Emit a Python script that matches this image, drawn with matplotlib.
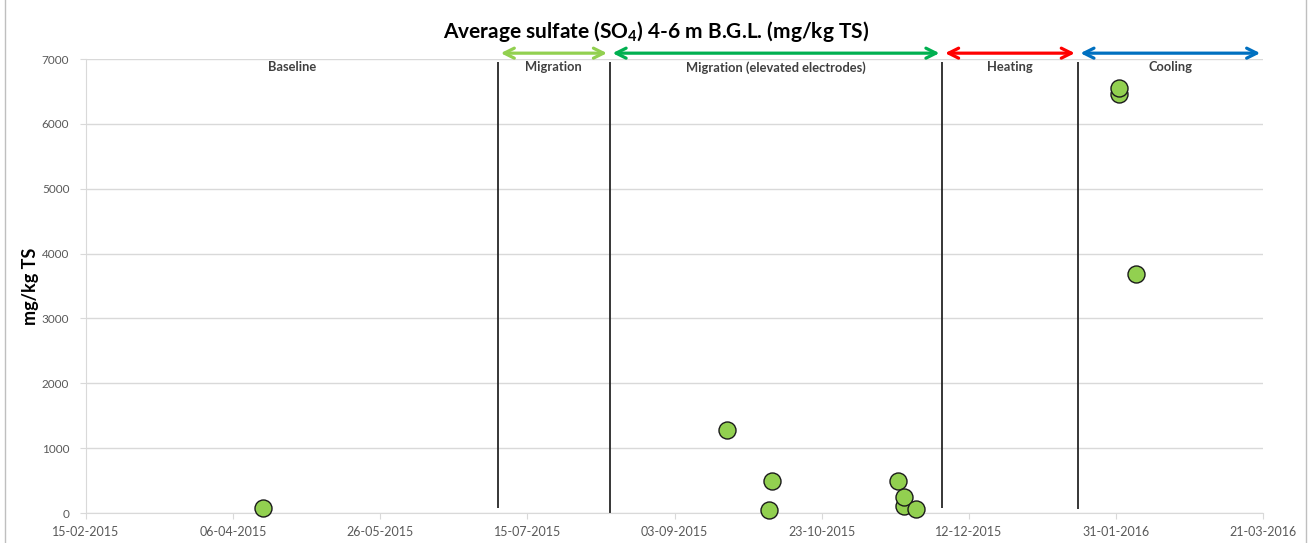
import numpy as np
import matplotlib
matplotlib.use("Agg")
import matplotlib.pyplot as plt
import matplotlib.dates as mdates
from matplotlib.patches import Rectangle
from datetime import datetime, timedelta

plt.rcParams['font.family'] = ['Lato', 'DejaVu Sans']
plt.rcParams['mathtext.fontset'] = 'custom'
plt.rcParams['mathtext.rm'] = 'Lato:bold'
plt.rcParams['mathtext.default'] = 'regular'

# sample dates and sulfate values (mg/kg TS)
sample_dates = ['2015-04-16', '2015-09-21', '2015-10-05', '2015-10-06',
                '2015-11-18', '2015-11-20', '2015-11-20', '2015-11-24',
                '2016-02-01', '2016-02-01', '2016-02-07']
sulfate = [70, 1285, 45, 500, 500, 110, 240, 55, 6460, 6560, 3690]

# phase boundaries and names
x_start = '2015-02-15'
x_end = '2016-03-21'
boundaries = ['2015-07-05', '2015-08-12', '2015-12-03', '2016-01-18']
phase_names = ['Baseline', 'Migration', 'Migration (elevated electrodes)',
               'Heating', 'Cooling']
arrow_colors = ['#92d050', '#00b050', '#ff0000', '#0070c0']

to_dt = lambda s: datetime.strptime(s, '%Y-%m-%d')
x = [to_dt(d) for d in sample_dates]
x0, x1 = to_dt(x_start), to_dt(x_end)
bnd = [to_dt(d) for d in boundaries]

fig = plt.figure(figsize=(13.09, 5.43), dpi=100)
ax = fig.add_axes([86/1309, 1 - 513/543, (1263-86)/1309, (513-59)/543])

ax.set_xlim(x0, x1)
ax.set_ylim(0, 7000)
ax.set_yticks(np.arange(0, 7001, 1000))
ax.set_xticks([x0 + timedelta(days=50*i) for i in range(9)])
ax.xaxis.set_major_formatter(mdates.DateFormatter('%d-%m-%Y'))
ax.grid(axis='y', color='#d9d9d9', lw=1)
ax.set_axisbelow(True)
for s in ['top', 'right']:
    ax.spines[s].set_visible(False)
for s in ['left', 'bottom']:
    ax.spines[s].set_color('#d9d9d9')
ax.tick_params(colors='#d9d9d9', labelcolor='#595959', length=4)
ax.tick_params(axis='x', labelsize=9, pad=5)
ax.tick_params(axis='y', labelsize=8.5, pad=8)

# phase separators
ax.vlines(bnd, [70, -60, 70, 60], 6950, color='#262626', lw=1.3)

# phase labels centered in each phase
edges = [x0] + bnd + [x1]
for i, name in enumerate(phase_names):
    mid = edges[i] + (edges[i+1] - edges[i]) / 2
    ax.text(mid, 6870, name, ha='center', va='center', fontsize=9.3,
            fontweight='bold', color='#404040')

# arrows above the plot (no arrow over baseline)
for i, c in enumerate(arrow_colors):
    ax.annotate('', xy=(edges[i+2], 7090), xytext=(edges[i+1], 7090),
                xycoords='data', annotation_clip=False,
                arrowprops=dict(arrowstyle='<->', color=c, lw=2.3,
                                mutation_scale=18, shrinkA=2, shrinkB=2))

ax.scatter(x, sulfate, s=150, color='#92d050', edgecolor='#1a1a1a',
           linewidth=1, zorder=3, clip_on=False)

ax.set_ylabel('mg/kg TS', fontsize=13, fontweight='bold', labelpad=2)
fig.text(656/1309, 1 - 31/543, 'Average sulfate (SO$_4$) 4-6 m B.G.L. (mg/kg TS)',
         ha='center', va='center', fontsize=15, fontweight='bold')

fig.patches.append(Rectangle((5/1309, -0.05), 1301/1309, 1.2, transform=fig.transFigure,
                             fill=False, edgecolor='#bfbfbf', lw=1))

fig.savefig('out.png', dpi=100)
